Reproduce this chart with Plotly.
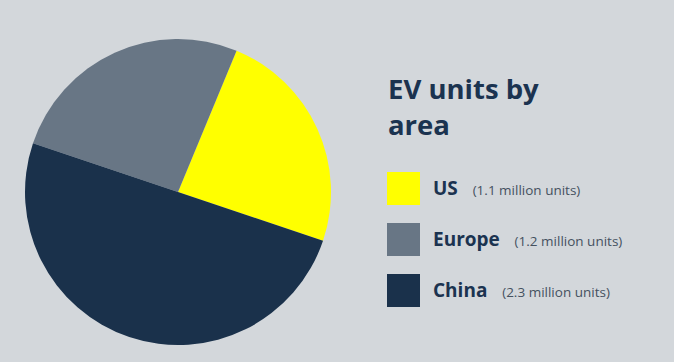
import plotly.graph_objects as go

areas = ["US", "Europe", "China"]
units_million = [1.1, 1.2, 2.3]
sub_labels = ["(1.1 million units)", "(1.2 million units)", "(2.3 million units)"]
colors = ["#FFFF00", "#687685", "#1A314B"]
title_text = "EV units by<br>area"

W, H = 674, 362
BG = "#D3D7DB"
NAVY = "#1B3350"
GREY_TXT = "#45515F"
FONT = "Open Sans"

fig = go.Figure()
fig.add_trace(go.Pie(
    labels=areas,
    values=units_million,
    marker=dict(colors=colors, line=dict(width=0)),
    sort=False,
    direction="counterclockwise",
    rotation=22.5,
    textinfo="none",
    hoverinfo="label+value",
    showlegend=False,
    domain=dict(x=[24 / W, 332 / W], y=[(H - 345) / H, (H - 39) / H]),
))

def px(x):
    return x / W

def py(y):
    return 1 - y / H

shapes = []
annotations = []

# Title (two lines)
title_lines = title_text.split("<br>")
for i, line in enumerate(title_lines):
    annotations.append(dict(
        x=px(386), y=py(88 + i * 37), xref="paper", yref="paper",
        xanchor="left", yanchor="middle", showarrow=False,
        text="<b>" + line + "</b>",
        font=dict(family=FONT, size=27.5, color=NAVY),
    ))

# Legend
for i, (name, sub, col) in enumerate(zip(areas, sub_labels, colors)):
    top = 172 + i * 51
    shapes.append(dict(
        type="rect", xref="paper", yref="paper",
        x0=px(387), x1=px(420), y0=py(top), y1=py(top + 33),
        fillcolor=col, line=dict(width=0),
    ))
    annotations.append(dict(
        x=px(431), y=py(top + 16), xref="paper", yref="paper",
        xanchor="left", yanchor="middle", showarrow=False,
        text="<b>" + name + "</b>&nbsp;&nbsp;&nbsp;<span style='font-size:13.5px;color:" + GREY_TXT + ";font-weight:normal'>" + sub + "</span>",
        font=dict(family=FONT, size=19, color=NAVY),
    ))

fig.update_layout(
    width=W, height=H,
    margin=dict(l=0, r=0, t=0, b=0),
    paper_bgcolor=BG, plot_bgcolor=BG,
    shapes=shapes,
    annotations=annotations,
)

fig.write_html(
    "out.html",
    config={"displayModeBar": False},
    post_script="document.body.style.margin='0';document.body.style.background='" + BG + "';",
)
